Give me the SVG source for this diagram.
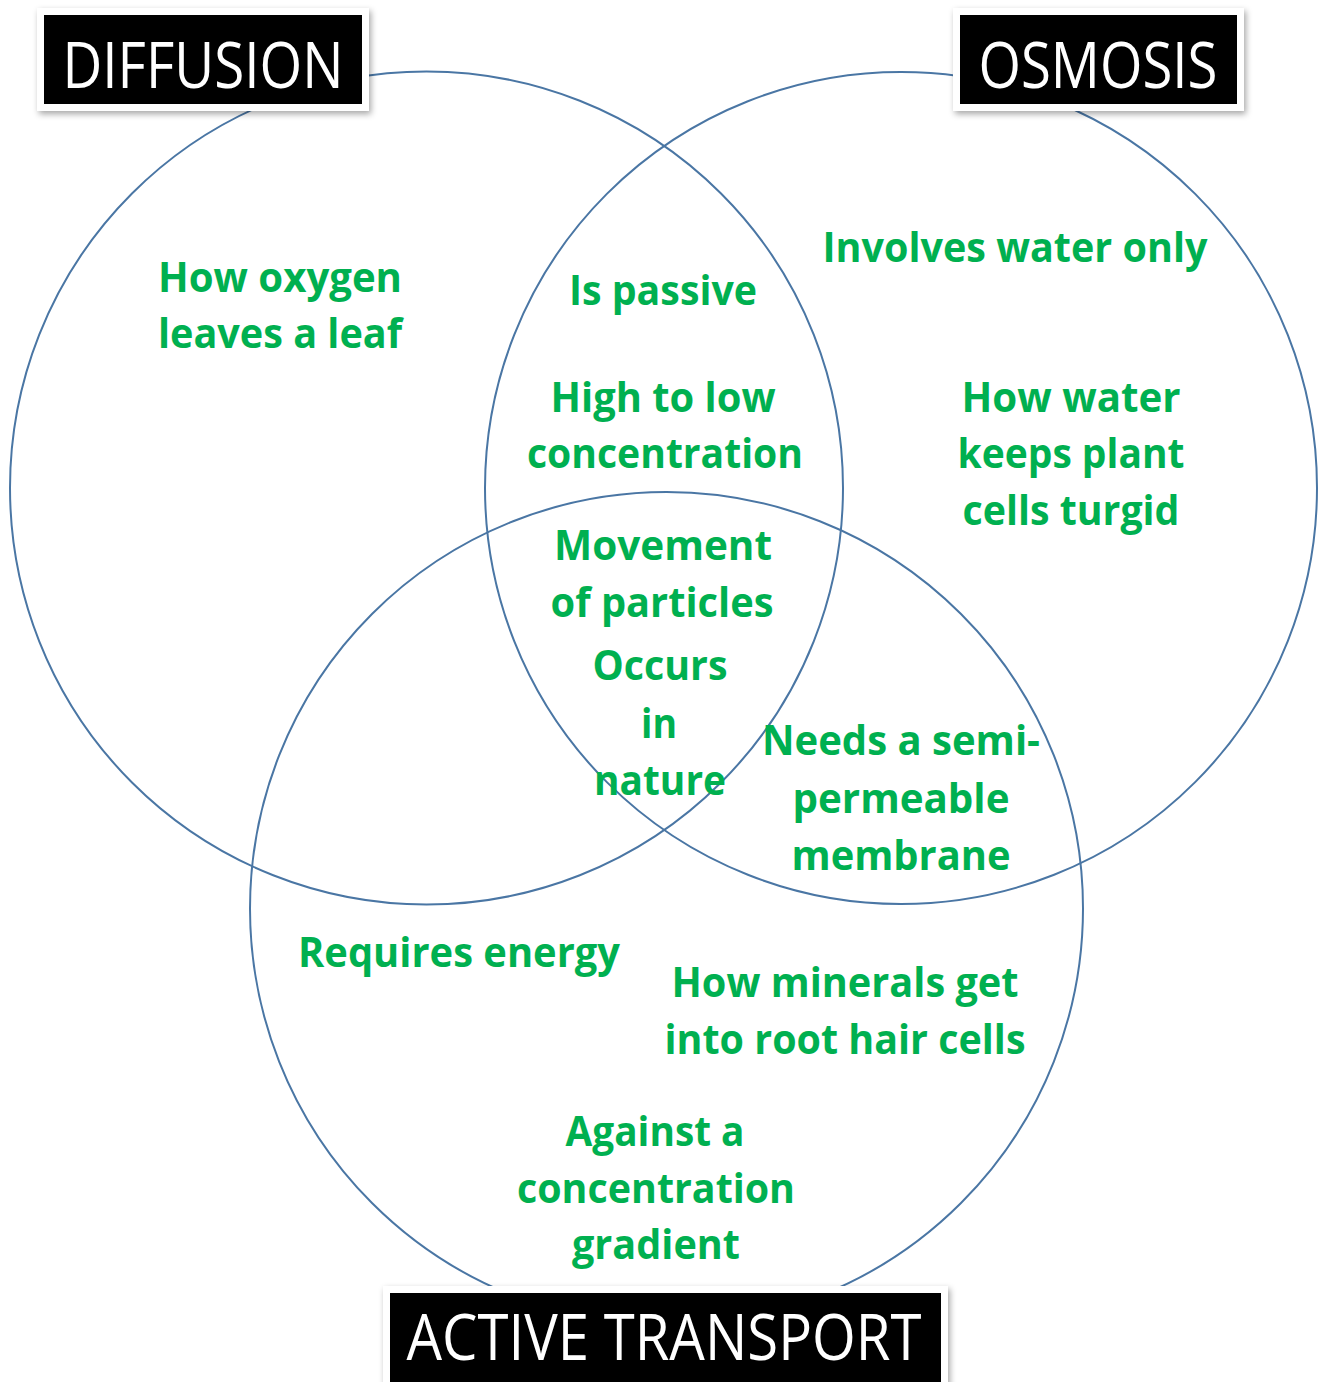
<svg xmlns="http://www.w3.org/2000/svg" width="1320" height="1382" viewBox="0 0 1320 1382">
<style>
.c{fill:none;stroke:#4A76A4;stroke-width:2}
.g{fill:#00B050;font-family:"Open Sans","Liberation Sans",sans-serif;font-weight:bold;font-size:42px;text-anchor:middle}
.w{fill:#fff;font-family:"Open Sans","Liberation Sans",sans-serif;font-size:64px;text-anchor:middle}
.frame{fill:#fff}
.box{fill:#000}
</style>
<defs>
<filter id="sh" x="-10%" y="-20%" width="120%" height="150%">
<feDropShadow dx="2" dy="3" stdDeviation="3" flood-color="#000" flood-opacity="0.35"/>
</filter>
</defs>
<rect width="1320" height="1382" fill="#fff"/>
<g id="circles">
<circle id="circle-diffusion" class="c" cx="426.5" cy="488" r="416.5"/>
<circle id="circle-osmosis" class="c" cx="901" cy="488" r="416"/>
<circle id="circle-active" class="c" cx="666.5" cy="908.5" r="416.5"/>
</g>
<g id="label-diffusion">
<rect class="frame" x="37" y="8" width="332" height="103" filter="url(#sh)"/>
<rect class="box" x="44" y="15" width="318" height="89"/>
<text class="w" x="203" y="88" textLength="281" lengthAdjust="spacingAndGlyphs">DIFFUSION</text>
</g>
<g id="label-osmosis">
<rect class="frame" x="953" y="8" width="291" height="103" filter="url(#sh)"/>
<rect class="box" x="960" y="15" width="277" height="89"/>
<text class="w" x="1098" y="88" textLength="239" lengthAdjust="spacingAndGlyphs">OSMOSIS</text>
</g>
<g id="label-active">
<rect class="frame" x="383" y="1286" width="565" height="110" filter="url(#sh)"/>
<rect class="box" x="390" y="1293" width="551" height="95"/>
<text class="w" x="664" y="1360" textLength="515" lengthAdjust="spacingAndGlyphs">ACTIVE TRANSPORT</text>
</g>
<g id="text-diffusion-only">
<text class="g" x="280" y="292" textLength="244" lengthAdjust="spacingAndGlyphs">How oxygen</text>
<text class="g" x="280" y="348" textLength="244" lengthAdjust="spacingAndGlyphs">leaves a leaf</text>
</g>
<g id="text-diffusion-osmosis">
<text class="g" x="663" y="305" textLength="188" lengthAdjust="spacingAndGlyphs">Is passive</text>
<text class="g" x="663" y="412" textLength="225" lengthAdjust="spacingAndGlyphs">High to low</text>
<text class="g" x="665" y="468" textLength="276" lengthAdjust="spacingAndGlyphs">concentration</text>
</g>
<g id="text-osmosis-only">
<text class="g" x="1015" y="262" textLength="385" lengthAdjust="spacingAndGlyphs">Involves water only</text>
<text class="g" x="1071" y="412" textLength="219" lengthAdjust="spacingAndGlyphs">How water</text>
<text class="g" x="1071" y="468" textLength="227" lengthAdjust="spacingAndGlyphs">keeps plant</text>
<text class="g" x="1071" y="525" textLength="217" lengthAdjust="spacingAndGlyphs">cells turgid</text>
</g>
<g id="text-all">
<text class="g" x="663" y="560" textLength="218" lengthAdjust="spacingAndGlyphs">Movement</text>
<text class="g" x="662" y="617" textLength="223" lengthAdjust="spacingAndGlyphs">of particles</text>
<text class="g" x="660" y="680" textLength="135" lengthAdjust="spacingAndGlyphs">Occurs</text>
<text class="g" x="659" y="738" textLength="36" lengthAdjust="spacingAndGlyphs">in</text>
<text class="g" x="660" y="795" textLength="132" lengthAdjust="spacingAndGlyphs">nature</text>
</g>
<g id="text-osmosis-active">
<text class="g" x="901" y="755" textLength="278" lengthAdjust="spacingAndGlyphs">Needs a semi-</text>
<text class="g" x="901" y="813" textLength="217" lengthAdjust="spacingAndGlyphs">permeable</text>
<text class="g" x="901" y="870" textLength="219" lengthAdjust="spacingAndGlyphs">membrane</text>
</g>
<g id="text-active-only">
<text class="g" x="459" y="967" textLength="322" lengthAdjust="spacingAndGlyphs">Requires energy</text>
<text class="g" x="845" y="997" textLength="347" lengthAdjust="spacingAndGlyphs">How minerals get</text>
<text class="g" x="845" y="1054" textLength="361" lengthAdjust="spacingAndGlyphs">into root hair cells</text>
<text class="g" x="655" y="1146" textLength="179" lengthAdjust="spacingAndGlyphs">Against a</text>
<text class="g" x="656" y="1203" textLength="278" lengthAdjust="spacingAndGlyphs">concentration</text>
<text class="g" x="656" y="1259" textLength="168" lengthAdjust="spacingAndGlyphs">gradient</text>
</g>
</svg>
